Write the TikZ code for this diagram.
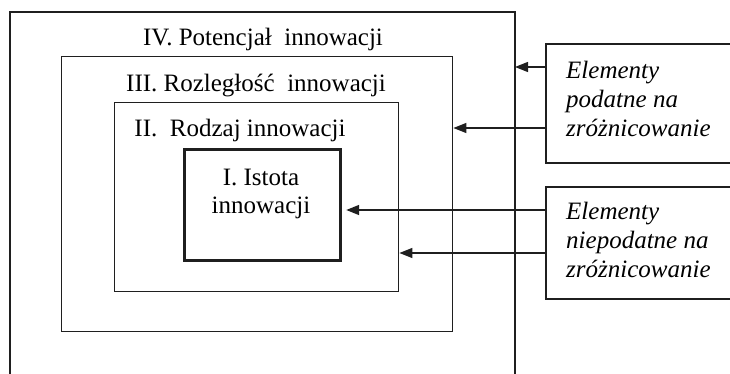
\documentclass[tikz,border=0pt]{standalone}
\usepackage{fontspec}
\setmainfont{Liberation Serif}
\usetikzlibrary{arrows.meta}
\begin{document}
\begin{tikzpicture}[x=1pt,y=-1pt,
  frame/.style={draw=black!88,line width=1.4pt},
  core/.style={draw=black!88,line width=3.2pt},
  lbl/.style={inner sep=0pt,font=\fontsize{25}{28}\selectfont},
  ilbl/.style={inner sep=0pt,align=left,font=\fontsize{25}{29}\selectfont\itshape},
  arr/.style={draw=black!88,line width=1.4pt,-{Triangle[length=13pt,width=10pt]}}]
\useasboundingbox (0,0) rectangle (730,374);
% nested frames
\draw[frame] (10,395) -- (10,12) -- (515,12) -- (515,395);
\coordinate (ivE) at (515,200);
\node[frame,inner sep=0pt,minimum width=391pt,minimum height=275pt,anchor=north west] (boxIII) at (61,56) {};
\node[frame,inner sep=0pt,minimum width=284pt,minimum height=189pt,anchor=north west] (boxII) at (114,102) {};
\node[core,inner sep=0pt,minimum width=156pt,minimum height=111pt,anchor=north west] (boxI) at (183,148) {};
% frame titles (multi-line nodes sit on the baseline of their last line)
\node[lbl,anchor=base] (tIV) at (263,46) {IV. Potencjał\ \ innowacji};
\node[lbl,anchor=base] (tIII) at (256,92) {III. Rozległość\ \ innowacji};
\node[lbl,anchor=base] (tII) at (240,137) {II.\ \ Rodzaj innowacji};
\node[lbl,anchor=base,align=center] (tI) at (261,213) {I. Istota\\innowacji};
% side boxes
\draw[frame] (750,44) -- (546,44) -- (546,163) -- (750,163);
\coordinate (podW) at (546,100);
\draw[frame] (750,187) -- (546,187) -- (546,299) -- (750,299);
\coordinate (niepW) at (546,240);
\node[ilbl,anchor=base west] (tpod) at (566,136.5) {Elementy\\podatne na\\zróżnicowanie};
\node[ilbl,anchor=base west] (tniep) at (566,277) {Elementy\\niepodatne na\\zróżnicowanie};
% arrows
\draw[arr] (podW |- 0,67) -- (ivE |- 0,67);
\draw[arr] (podW |- 0,128) -- (boxIII.east |- 0,128);
\draw[arr] (niepW |- 0,210) -- ([xshift=4pt]boxI.east |- 0,210);
\draw[arr] (niepW |- 0,253) -- (boxII.east |- 0,253);
\end{tikzpicture}
\end{document}
